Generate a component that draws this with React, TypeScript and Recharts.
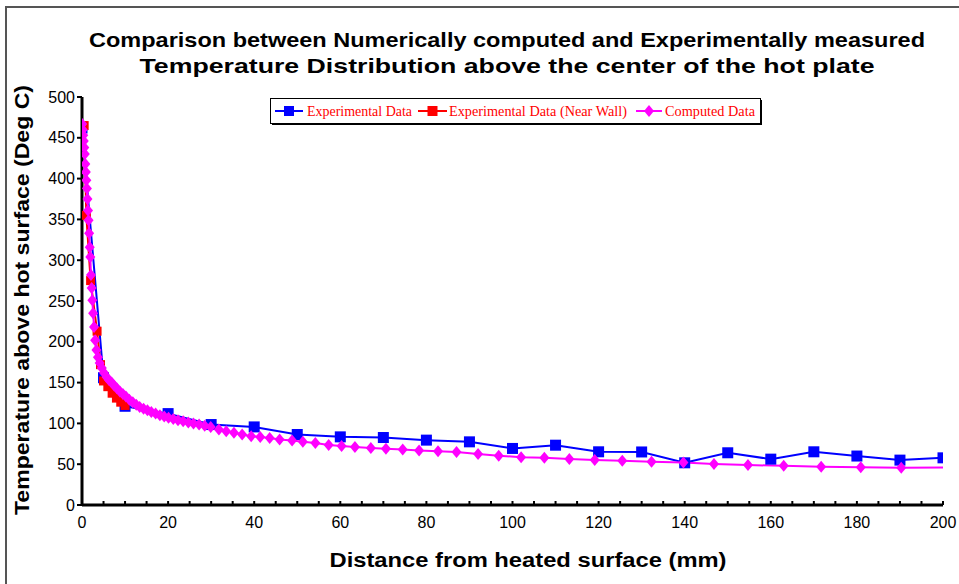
import React from "react";
import { LineChart, Line, XAxis, YAxis, Legend } from "recharts";

// ---- Data ----
const expX = [0, 5, 10, 20, 30, 40, 50, 60, 70, 80, 90, 100, 110, 120, 130, 140, 150, 160, 170, 180, 190, 200];
const expY = [462, 156, 121, 112, 98.6, 95.7, 86.4, 83.5, 82.7, 79.5, 77.4, 69.3, 73.3, 65.2, 65, 51.7, 64, 56.2, 65.2, 60, 55, 57.8];

const wallX = [0.5, 1, 2, 3.5, 4.3, 5, 6, 7, 8, 9, 10];
const wallY = [465, 355, 275, 213, 172, 152, 145, 137, 131, 126, 122];

const compX = [0.05, 0.17, 0.29, 0.41, 0.53, 0.65, 0.77, 0.89, 1.01, 1.14, 1.27, 1.40, 1.53, 1.66, 1.80, 1.93,
  2.08, 2.24, 2.40, 2.58, 2.80, 3.05, 3.35, 3.7, 4.1, 4.6,
  5.1, 5.7, 6.3, 6.9, 7.5, 8.1, 8.8, 9.5, 10.2, 11.0,
  11.8, 12.6, 13.4, 14.3, 15.2, 16.1, 17.1, 18.1, 19.1, 20.1,
  21.2, 22.3, 23.5, 24.7, 25.9, 27.2, 28.5, 29.9, 31.8, 33.5,
  35.3, 37.2, 39.3, 41.4, 43.6, 45.9, 48.8, 51.3, 54.2, 57.3,
  60.3, 63.4, 67.1, 70.6, 74.5, 78.3, 82.7, 87.0, 92.0, 96.8,
  102.0, 107.4, 113.2, 119.1, 125.5, 132.3, 139.7, 146.8, 154.7, 163.0,
  171.7, 180.9, 190.3, 200.0];
const compY = [467, 460, 453, 446, 438, 430, 418, 408, 398, 388, 375, 361, 349, 333, 316, 304,
  282, 266, 251, 235, 218, 202, 190, 181, 174, 168,
  162, 157, 153, 150, 146, 143, 139, 136, 133, 129,
  126, 123, 120, 118, 116, 114, 112, 110, 108.5, 107,
  105.5, 104, 102.5, 101, 100, 98.5, 97, 95.5, 92.5, 90.5,
  88.5, 86.4, 84.4, 83.2, 82, 80.3, 79, 77.5, 76, 73.5,
  72.3, 71, 70, 68.9, 68, 66.8, 66, 65, 62.5, 60.5,
  58.5, 57.8, 56.5, 55.2, 54.2, 53, 52.2, 50.3, 49, 48,
  47, 46.2, 45.6, 46];

const xTicks = [0, 5, 10, 15, 20, 25, 30, 35, 40, 45, 50, 55, 60, 65, 70, 75, 80, 85, 90, 95, 100,
  105, 110, 115, 120, 125, 130, 135, 140, 145, 150, 155, 160, 165, 170, 175, 180, 185, 190, 195, 200];
const xLabelTicks = [0, 20, 40, 60, 80, 100, 120, 140, 160, 180, 200];
const yTicks = [0, 50, 100, 150, 200, 250, 300, 350, 400, 450, 500];

const seriesNames = ["Experimental Data", "Experimental Data (Near Wall)", "Computed Data"];
const seriesColors = ["#0000FF", "#FF0000", "#FF00FF"];

const titleLines = [
  "Comparison between Numerically computed and Experimentally measured",
  "Temperature Distribution above the center of the hot plate",
];
const xTitle = "Distance from heated surface (mm)";
const yTitle = "Temperature above hot surface (Deg C)";

const expData = expX.map((x, i) => ({ x, y: expY[i] }));
const wallData = wallX.map((x, i) => ({ x, y: wallY[i] }));
const compData = compX.map((x, i) => ({ x, y: compY[i] }));

const Square = (color: string, size: number) => (props: any) => {
  const { cx, cy, index } = props;
  if (cx == null || cy == null) return <g key={`s${index}`} />;
  return <rect key={`s${index}`} x={cx - size / 2} y={cy - size / 2} width={size} height={size} fill={color} />;
};

const Diamond = (color: string, lastIdx: number) => (props: any) => {
  const { cx, cy, index } = props;
  if (cx == null || cy == null || index === lastIdx) return <g key={`d${index}`} />;
  const w = 5, h = 6;
  return (
    <polygon key={`d${index}`} points={`${cx},${cy - h} ${cx + w},${cy} ${cx},${cy + h} ${cx - w},${cy}`} fill={color} />
  );
};

const XTick = (props: any) => {
  const { x, y, payload } = props;
  const v = payload.value;
  const showLabel = xLabelTicks.includes(v);
  return (
    <g>
      <line x1={x} x2={x} y1={y - 4} y2={y} stroke="#000" strokeWidth={2} />
      {showLabel && (
        <text x={x} y={y + 23} textAnchor="middle" fontSize={16} fontFamily="Liberation Sans, Arial, sans-serif" fill="#000">
          {v}
        </text>
      )}
    </g>
  );
};

// legend layout relative to its box (box at 270,98 size 490x25)
const legendItems = [
  { lx1: 5, lx2: 33, tx: 37, tw: 105 },
  { lx1: 148, lx2: 177, tx: 179, tw: 178 },
  { lx1: 366, lx2: 392, tx: 395, tw: 90 },
];

const LegendBox = () => (
  <svg width={494} height={29} style={{ display: "block" }}>
    <rect x={2} y={2} width={490} height={25} fill="#000" />
    <rect x={0.5} y={0.5} width={490} height={25} fill="#fff" stroke="#000" strokeWidth={1} />
    {legendItems.map((it, i) => {
      const mx = (it.lx1 + it.lx2) / 2;
      return (
        <g key={i}>
          <line x1={it.lx1} x2={it.lx2} y1={13} y2={13} stroke={seriesColors[i]} strokeWidth={2} />
          {i < 2 ? (
            <rect x={mx - 5} y={8} width={10} height={10} fill={seriesColors[i]} />
          ) : (
            <polygon points={`${mx},7 ${mx + 5},13 ${mx},19 ${mx - 5},13`} fill={seriesColors[i]} />
          )}
          <text x={it.tx} y={17.5} fontSize={14} fill="#FF0000" fontFamily="Liberation Serif, Times New Roman, serif"
            textLength={it.tw} lengthAdjust="spacingAndGlyphs">
            {seriesNames[i]}
          </text>
        </g>
      );
    })}
  </svg>
);

export default function App() {
  return (
    <div style={{ position: "absolute", left: 0, top: 0, width: 959, height: 584, overflow: "hidden", background: "#fff" }}>
      <div style={{ position: "absolute", left: 5, top: 6, width: 1000, height: 1000, borderLeft: "2px solid #555", borderTop: "2px solid #555" }} />
      <div style={{ position: "absolute", left: 0, top: 0 }}>
        <LineChart width={959} height={584} margin={{ top: 97, right: 16, bottom: 0, left: 0 }}>
          <XAxis
            dataKey="x"
            type="number"
            domain={[0, 200]}
            ticks={xTicks}
            interval={0}
            allowDataOverflow
            height={79}
            tickSize={0}
            tickMargin={0}
            tickLine={false}
            axisLine={{ stroke: "#000", strokeWidth: 3 }}
            tick={<XTick />}
          />
          <YAxis
            dataKey="y"
            type="number"
            domain={[0, 500]}
            ticks={yTicks}
            interval={0}
            width={82}
            tickSize={5}
            tickMargin={2}
            tickLine={{ stroke: "#000", strokeWidth: 2 }}
            axisLine={{ stroke: "#000", strokeWidth: 3 }}
            tick={{ fontSize: 16, fill: "#000", fontFamily: "Liberation Sans, Arial, sans-serif" }}
          />
          <Legend
            layout="horizontal"
            verticalAlign="middle"
            align="center"
            wrapperStyle={{ left: 270, top: 98, width: 494 }}
            content={<LegendBox />}
          />
          <Line data={expData} dataKey="y" name={seriesNames[0]} stroke={seriesColors[0]} strokeWidth={2}
            dot={Square(seriesColors[0], 11)} activeDot={false} isAnimationActive={false} />
          <Line data={wallData} dataKey="y" name={seriesNames[1]} stroke={seriesColors[1]} strokeWidth={2}
            dot={Square(seriesColors[1], 9)} activeDot={false} isAnimationActive={false} />
          <Line data={compData} dataKey="y" name={seriesNames[2]} stroke={seriesColors[2]} strokeWidth={2}
            dot={Diamond(seriesColors[2], compData.length - 1)} activeDot={false} isAnimationActive={false} />
        </LineChart>
      </div>
      <svg width={959} height={584} style={{ position: "absolute", left: 0, top: 0, pointerEvents: "none" }}>
        <g fontFamily="Liberation Sans, Arial, sans-serif" fontWeight="bold" fill="#000">
          <text x={507} y={47} textAnchor="middle" fontSize={21} textLength={836} lengthAdjust="spacingAndGlyphs">{titleLines[0]}</text>
          <text x={507} y={73} textAnchor="middle" fontSize={21} textLength={735} lengthAdjust="spacingAndGlyphs">{titleLines[1]}</text>
          <text x={528} y={567} textAnchor="middle" fontSize={20} textLength={397} lengthAdjust="spacingAndGlyphs">{xTitle}</text>
          <text transform="translate(29,300) rotate(-90)" textAnchor="middle" fontSize={20} textLength={430} lengthAdjust="spacingAndGlyphs">{yTitle}</text>
        </g>
      </svg>
    </div>
  );
}
